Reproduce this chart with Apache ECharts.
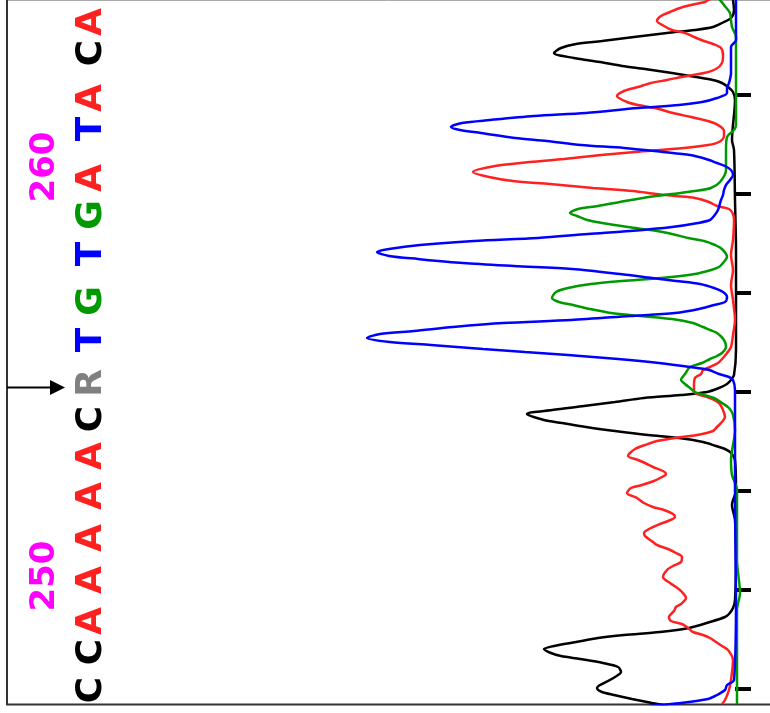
<!DOCTYPE html>
<html><head><meta charset="utf-8">
<script src="https://cdn.jsdelivr.net/npm/echarts@6/dist/echarts.min.js"></script>
<style>html,body{margin:0;padding:0;background:#fff}#c{width:770px;height:713px}</style>
</head><body><div id="c"></div>
<script>
// Base calls (reading upward along the scan axis) and their scan positions
const bases = ['C','C','A','A','A','A','A','C','R','T','G','T','G','A','T','A','C','A'];
const basePos = [14,52,83,124,166,208,248,285,321,364,403,450,489,526,575,606,651,682];
const baseColors = {A:'#ff2020', C:'#000000', G:'#009900', T:'#0000ff', R:'#808080'};
const posLabels = ['250','260'];
const posLabelScan = [128,537];
const tickScans = [15,114,213,312,411,510,609];

// Traces: [intensity, scan]
const traceC = [[2,704],[1,694],[4,686],[13,681],[22,677],[40,674],[68,671],[101,667],[133,663],[159,660],[174,656],[181,651],[161,646],[135,642],[113,638],[90,635],[63,631],[39,627],[22,624],[13,621],[7,617],[2,612],[0,604],[3,564],[1,554],[0,504],[-1,454],[-1,404],[-1,354],[1,329],[4,324],[8,320],[16,316],[28,312],[54,309],[91,306],[120,302],[151,298],[183,294],[208,290],[191,284],[173,281],[149,277],[120,273],[87,269],[56,266],[32,262],[19,258],[10,255],[4,251],[0,244],[-1,214],[3,199],[0,184],[-1,144],[0,104],[2,96],[6,90],[10,87],[25,82],[46,76],[75,72],[111,69],[137,66],[159,62],[181,58],[191,55],[184,51],[174,48],[155,45],[132,41],[117,37],[114,32],[120,27],[127,23],[135,19],[138,16],[133,12],[121,9],[103,5],[83,1],[67,-2]];

const traceA = [[17,707],[27,704],[30,702],[44,699],[55,696],[65,692],[74,688],[78,683],[71,678],[63,674],[50,671],[41,667],[31,663],[22,660],[14,656],[12,649],[13,641],[19,635],[31,631],[54,627],[68,624],[84,621],[97,617],[111,613],[118,608],[108,602],[97,599],[80,596],[62,591],[44,587],[31,584],[21,581],[14,577],[11,573],[11,568],[16,562],[27,559],[51,556],[100,552],[134,549],[171,545],[205,542],[240,538],[262,532],[246,527],[222,523],[185,520],[142,516],[102,513],[79,510],[60,508],[40,506],[26,502],[18,498],[6,495],[2,490],[1,484],[2,464],[4,449],[2,434],[4,419],[2,404],[0,384],[2,369],[4,357],[8,351],[12,346],[17,341],[25,337],[32,334],[34,330],[40,326],[41,319],[41,312],[35,309],[25,306],[16,301],[12,294],[10,287],[14,281],[18,277],[22,273],[38,269],[60,266],[78,263],[90,259],[100,255],[105,251],[107,248],[97,244],[90,241],[82,237],[72,233],[69,230],[75,226],[81,223],[93,219],[104,216],[108,211],[98,206],[91,201],[82,197],[71,194],[62,190],[60,187],[67,183],[75,180],[84,176],[91,171],[90,168],[82,162],[78,159],[67,155],[59,151],[53,147],[54,142],[62,138],[68,134],[72,127],[65,121],[59,117],[53,112],[49,106],[54,100],[59,97],[61,93],[66,87],[64,83],[53,80],[47,76],[42,72],[32,69],[25,66],[19,62],[13,58],[7,54],[2,44],[4,24],[6,14],[10,4],[13,0]];

const traceG = [[19,707],[15,704],[11,699],[5,691],[4,684],[3,677],[-1,667],[-1,624],[-1,579],[1,574],[8,567],[9,554],[9,534],[15,522],[24,516],[40,513],[63,510],[92,506],[115,502],[137,498],[157,495],[165,491],[158,488],[148,484],[133,481],[107,477],[78,473],[63,470],[47,466],[31,463],[20,459],[13,455],[8,447],[12,441],[16,437],[24,434],[40,430],[74,426],[113,423],[144,420],[167,416],[179,412],[183,406],[176,402],[162,399],[145,395],[124,391],[94,388],[63,385],[42,381],[32,377],[25,374],[18,371],[11,364],[9,357],[13,351],[18,348],[25,345],[33,341],[45,337],[50,330],[54,324],[50,320],[45,316],[40,312],[31,309],[21,306],[13,301],[6,296],[2,289],[0,274],[4,244],[3,229],[-2,214],[-2,144],[-5,111],[-2,94],[-2,0]];

const traceT = [[-1,704],[-1,664],[4,657],[4,631],[6,621],[8,616],[8,611],[18,606],[33,602],[56,599],[97,596],[149,591],[201,588],[245,584],[273,581],[284,577],[275,574],[254,571],[220,566],[188,563],[154,559],[111,556],[72,552],[45,549],[29,545],[18,541],[10,538],[4,534],[2,529],[5,524],[9,519],[11,514],[12,509],[14,504],[17,494],[21,488],[25,484],[37,481],[63,477],[105,473],[147,470],[197,466],[261,463],[315,459],[346,455],[358,452],[346,448],[317,445],[272,441],[221,438],[163,435],[115,430],[83,426],[59,423],[35,420],[21,416],[12,412],[8,407],[10,402],[21,399],[36,395],[60,391],[105,388],[164,384],[232,381],[282,377],[321,373],[355,370],[368,366],[345,362],[304,359],[252,355],[210,352],[167,349],[117,345],[76,341],[45,337],[26,334],[16,330],[6,327],[2,324],[0,314],[0,204],[-1,104],[1,24],[8,19],[10,14],[18,9],[27,5],[54,1],[85,-2]];

const traces = [
  {name:'C', data:traceC, color:'#000000'},
  {name:'A', data:traceA, color:'#ff2020'},
  {name:'G', data:traceG, color:'#009900'},
  {name:'T', data:traceT, color:'#0000ff'}
];

const chart = echarts.init(document.getElementById('c'), null, {renderer:'canvas'});
const LETTER_I = 643;
const NUM_I = 690;

const series = traces.map(t => ({
  type:'line', name:t.name, data:t.data, symbol:'none', smooth:0.3,
  lineStyle:{color:t.color, width:2.5}, clip:true, silent:true
}));

const txt = {show:true, position:'inside', formatter:'{b}', rotate:90, opacity:1,
  textBorderWidth:0, textShadowBlur:0,
  fontFamily:'DejaVu Sans', fontWeight:'bold', fontSize:36, align:'center', verticalAlign:'middle'};

series.push({
  type:'scatter', symbolSize:1, itemStyle:{color:'#ffffff', opacity:0}, silent:true,
  data: bases.map((b,i)=>({value:[LETTER_I, basePos[i]], name:b,
    label:{color:baseColors[b]}})),
  label:Object.assign({}, txt)
});
series.push({
  type:'scatter', symbolSize:1, itemStyle:{color:'#ffffff', opacity:0}, silent:true,
  data: posLabels.map((t,i)=>({value:[NUM_I, posLabelScan[i]], name:t})),
  label:Object.assign({}, txt, {color:'#ff00ff', fontSize:34})
});

chart.setOption({
  animation:false,
  backgroundColor:'#ffffff',
  grid:{left:7, right:16, top:0, bottom:9, containLabel:false},
  xAxis:{type:'value', min:-19, max:728, inverse:true, show:false},
  yAxis:{type:'value', min:0, max:704, position:'right',
    axisLine:{show:false}, splitLine:{show:false}, axisLabel:{show:false},
    axisTick:{show:true, inside:false, length:16, lineStyle:{color:'#000', width:4}, customValues:tickScans}
  },
  series:series,
  graphic:[
    {type:'line', shape:{x1:7, y1:0.5, x2:770, y2:0.5}, style:{stroke:'#aaaaaa', lineWidth:1}},
    {type:'line', shape:{x1:7, y1:0, x2:7, y2:705}, style:{stroke:'#333333', lineWidth:2}},
    {type:'line', shape:{x1:6, y1:704.5, x2:770, y2:704.5}, style:{stroke:'#333333', lineWidth:2}},
    {type:'line', shape:{x1:7, y1:387.5, x2:52, y2:387.5}, style:{stroke:'#000', lineWidth:2}},
    {type:'polygon', shape:{points:[[50,380],[65,387.5],[50,395]]}, style:{fill:'#000'}}
  ]
});
</script></body></html>
